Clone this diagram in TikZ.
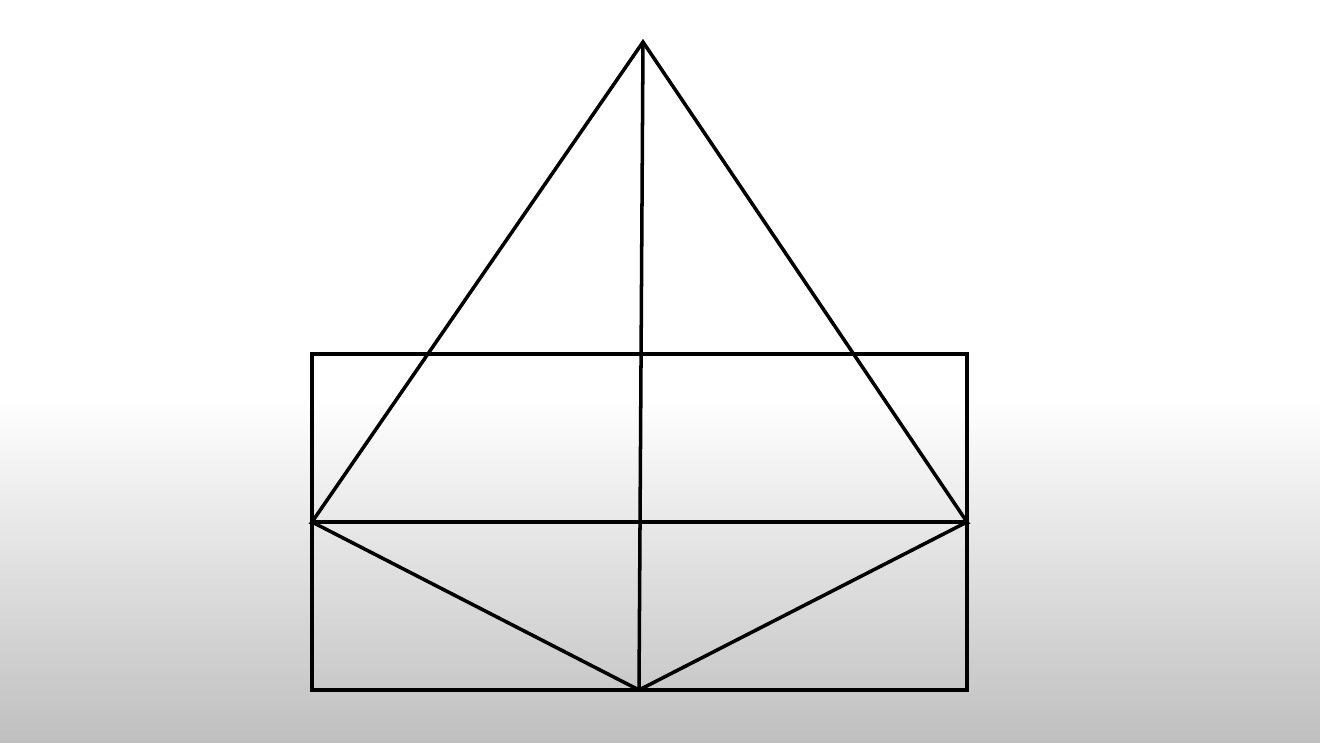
\documentclass[tikz,border=0pt]{standalone}
\begin{document}
\begin{tikzpicture}[x=0.02cm,y=-0.02cm,
  edge/.style={line width=2pt,black,line join=miter}]
\useasboundingbox (0,0) rectangle (1320,743);
\fill[white] (0,0) rectangle (1320,400);
\shade[top color=white,bottom color=black!25] (0,399.5) rectangle (1320,743);
\coordinate (A) at (643,42);
\coordinate (L) at (312,522);
\coordinate (R) at (967,522);
\coordinate (B) at (639,690);
\coordinate (TL) at (312,354);
\coordinate (BR) at (967,690);
\draw[edge] (TL) rectangle (BR);
\draw[edge] (L) -- (A) -- (R) -- cycle;
\draw[edge] (A) -- (B);
\draw[edge] (L) -- (B) -- (R);
\end{tikzpicture}
\end{document}
